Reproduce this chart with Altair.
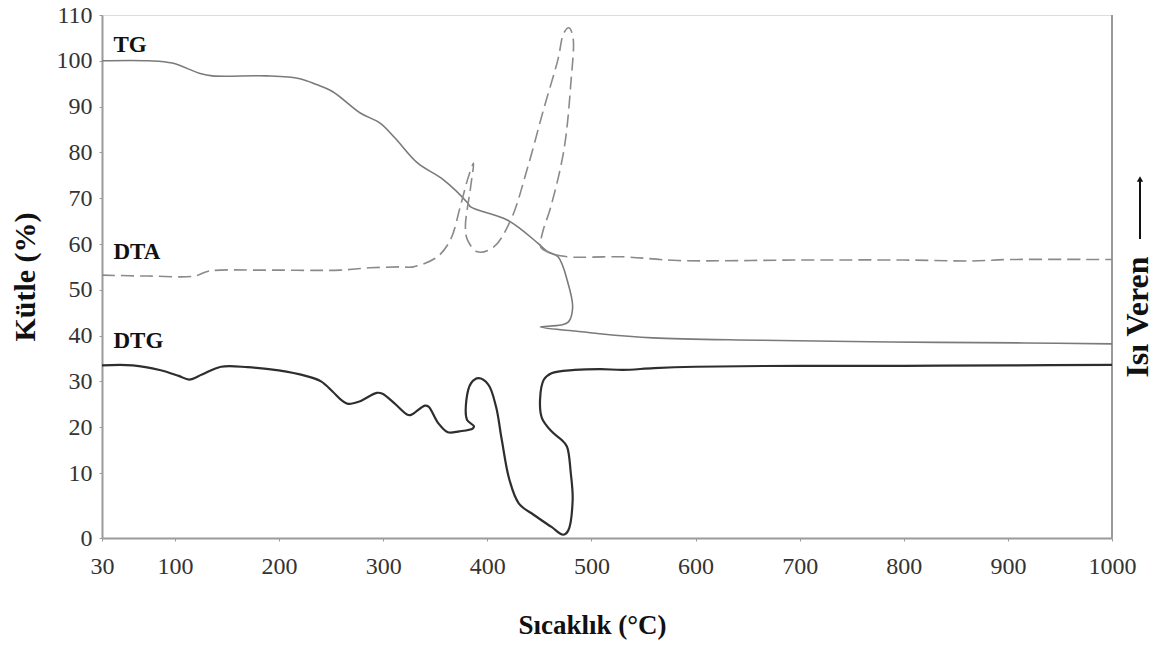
import altair as alt
import pandas as pd

# ---- data ----
tg_x = [30, 75, 97.5, 123.5, 136, 188, 220, 236, 252, 278, 297, 311.6, 333, 358, 381, 384,
        419.6, 448.5, 458, 468, 477.5, 482, 478, 470.7, 451, 493, 508, 559, 661, 787, 916, 1000]
tg_y = [100.0, 100.0, 99.5, 97.3, 96.7, 96.7, 96.1, 94.8, 93.2, 88.6, 86.4, 83.1, 77.7, 74.0, 69.0, 68.1,
        65.2, 60.2, 58.3, 57.2, 51.5, 46.2, 43.0, 42.3, 41.9, 40.8, 40.4, 39.5, 39.0, 38.6, 38.4, 38.2]

dta_x = [30, 75, 118.7, 133, 181.4, 258.5, 287.5, 316.4, 329, 352, 364.6, 374, 381, 386.8, 384, 379,
         381, 390.6, 406, 422.5, 438.9, 454, 467.8, 473.6, 478.4, 482.3, 480.3, 473.6, 461, 453,
         451.4, 461, 477.4, 530, 583, 700, 800, 865, 900, 1000]
dta_y = [53.2, 53.0, 53.0, 54.1, 54.3, 54.3, 54.8, 55.0, 55.0, 57.2, 60.9, 68.1, 74.0, 77.7, 72.4, 63.7,
         60.9, 58.3, 59.3, 65.2, 76.8, 89.3, 100.2, 106.1, 107.2, 105.2, 95.2, 80.5, 68.1, 62.4,
         59.3, 58.0, 57.2, 57.2, 56.4, 56.5, 56.5, 56.3, 56.6, 56.6]

dtg_x = [30, 59.5, 85.4, 103.8, 113.8, 126, 144.4, 170, 199.7, 225.6, 240.3, 251.4, 260.6, 266.2, 277.2,
         293.8, 299.4, 310.4, 323.4, 327, 340, 343.6, 352.9, 362.1, 373.2, 386, 387.2, 380.6, 380,
         384.4, 391.6, 401, 408.4, 413.9, 421.2, 430.4, 445.2, 461.7, 472.8, 477.6, 482, 480.2,
         476.5, 471, 461.7, 452.5, 450.7, 454.4, 461.7, 483.9, 509, 530, 560, 600, 700, 800, 900, 1000]
dtg_y = [33.5, 33.5, 32.5, 31.2, 30.4, 31.5, 33.2, 33.1, 32.4, 31.2, 30.0, 27.8, 25.8, 25.1, 25.6,
         27.5, 27.3, 25.3, 22.7, 22.7, 24.7, 24.5, 20.9, 18.9, 19.1, 19.7, 20.2, 21.6, 26.0,
         29.6, 30.7, 29.3, 24.5, 17.3, 9.0, 5.3, 3.5, 1.7, 0.5, 1.1, 5.8, 10.0,
         15.8, 17.3, 19.1, 22.0, 26.0, 30.4, 31.8, 32.5, 32.7, 32.5, 32.9, 33.2, 33.4, 33.4, 33.5, 33.6]

label_names = ["TG", "DTA", "DTG"]
label_x = [41, 41, 41]
label_y = [103.4, 58.3, 38.8]

x_ticks = [30, 100, 200, 300, 400, 500, 600, 700, 800, 900, 1000]
y_ticks = [0, 10, 20, 30, 40, 50, 60, 70, 80, 90, 100, 110]

# ---- tables ----
def series(xs, ys):
    return pd.DataFrame({"x": xs, "y": ys, "i": list(range(len(xs)))})

tg = series(tg_x, tg_y)
dta = series(dta_x, dta_y)
dtg = series(dtg_x, dtg_y)
labels = pd.DataFrame({"name": label_names, "x": label_x, "y": label_y})

W, H = 1010, 523
SERIF = "Liberation Serif"

xscale = alt.Scale(domain=[30, 1000], nice=False, zero=False)
yscale = alt.Scale(domain=[0, 10, 110], range=[H, 458, 0], nice=False, zero=False)

xenc = alt.X("x:Q", scale=xscale, axis=alt.Axis(
    values=x_ticks, format="d", title="Sıcaklık (°C)", grid=False, domainColor="#9a9a9a",
    domainWidth=2, tickColor="#9a9a9a", tickSize=3, labelFont=SERIF, labelFontSize=24,
    labelColor="#333333", labelPadding=13, titleFont=SERIF, titleFontSize=27,
    titleFontWeight="bold", titleColor="#111111", titlePadding=34, titleX=490,
    labelFlush=False))
yenc = alt.Y("y:Q", scale=yscale, axis=alt.Axis(
    values=y_ticks, title="Kütle (%)", grid=False, domainColor="#9a9a9a", domainWidth=2,
    tickColor="#9a9a9a", tickSize=3, labelFont=SERIF, labelFontSize=24, labelColor="#333333",
    labelPadding=7, titleFont=SERIF, titleFontSize=30, titleFontWeight="bold",
    titleColor="#111111", titlePadding=16))

def line(df, color, width, dash=None):
    kw = dict(color=color, strokeWidth=width, interpolate="catmull-rom")
    if dash:
        kw["strokeDash"] = dash
    return alt.Chart(df).mark_line(**kw).encode(x=xenc, y=yenc, order="i:Q")

tg_line = line(tg, "#7a7a7a", 1.6)
dta_line = line(dta, "#8a8a8a", 1.6, [13, 6])
dtg_line = line(dtg, "#2e2e2e", 2.2)

text = alt.Chart(labels).mark_text(
    align="left", baseline="middle", font=SERIF, fontSize=23, fontWeight="bold", color="#111111"
).encode(x=alt.X("x:Q", scale=xscale), y=alt.Y("y:Q", scale=yscale), text="name:N")

right_frame = alt.Chart(labels).mark_rule(color="#9a9a9a", strokeWidth=2).encode(
    x=alt.value(W), y=alt.value(0), y2=alt.value(H))

right_title = alt.Chart(pd.DataFrame({"t": ["Isı Veren"]})).mark_text(
    angle=270, font=SERIF, fontSize=32, fontWeight="bold", color="#111111",
    align="center", baseline="middle"
).encode(x=alt.value(1036), y=alt.value(302), text="t:N")

arrow_shaft = alt.Chart(pd.DataFrame({"a": [0]})).mark_rule(color="#111111", strokeWidth=2).encode(
    x=alt.value(1038), y=alt.value(224), y2=alt.value(166))
arrow_head = alt.Chart(pd.DataFrame({"a": [0]})).mark_point(
    shape="triangle-up", filled=True, color="#111111", size=40, opacity=1
).encode(x=alt.value(1038), y=alt.value(164))

chart = alt.layer(
    right_frame, tg_line, dta_line, dtg_line, text, right_title, arrow_shaft, arrow_head
).properties(
    width=W, height=H,
    autosize=alt.AutoSizeParams(type="none"),
    padding={"left": 102, "top": 15, "right": 1155 - 102 - W, "bottom": 648 - 15 - H},
).configure_view(stroke=None).configure(background="white")

chart.save("out.html", embed_options={"renderer": "svg", "actions": False})
